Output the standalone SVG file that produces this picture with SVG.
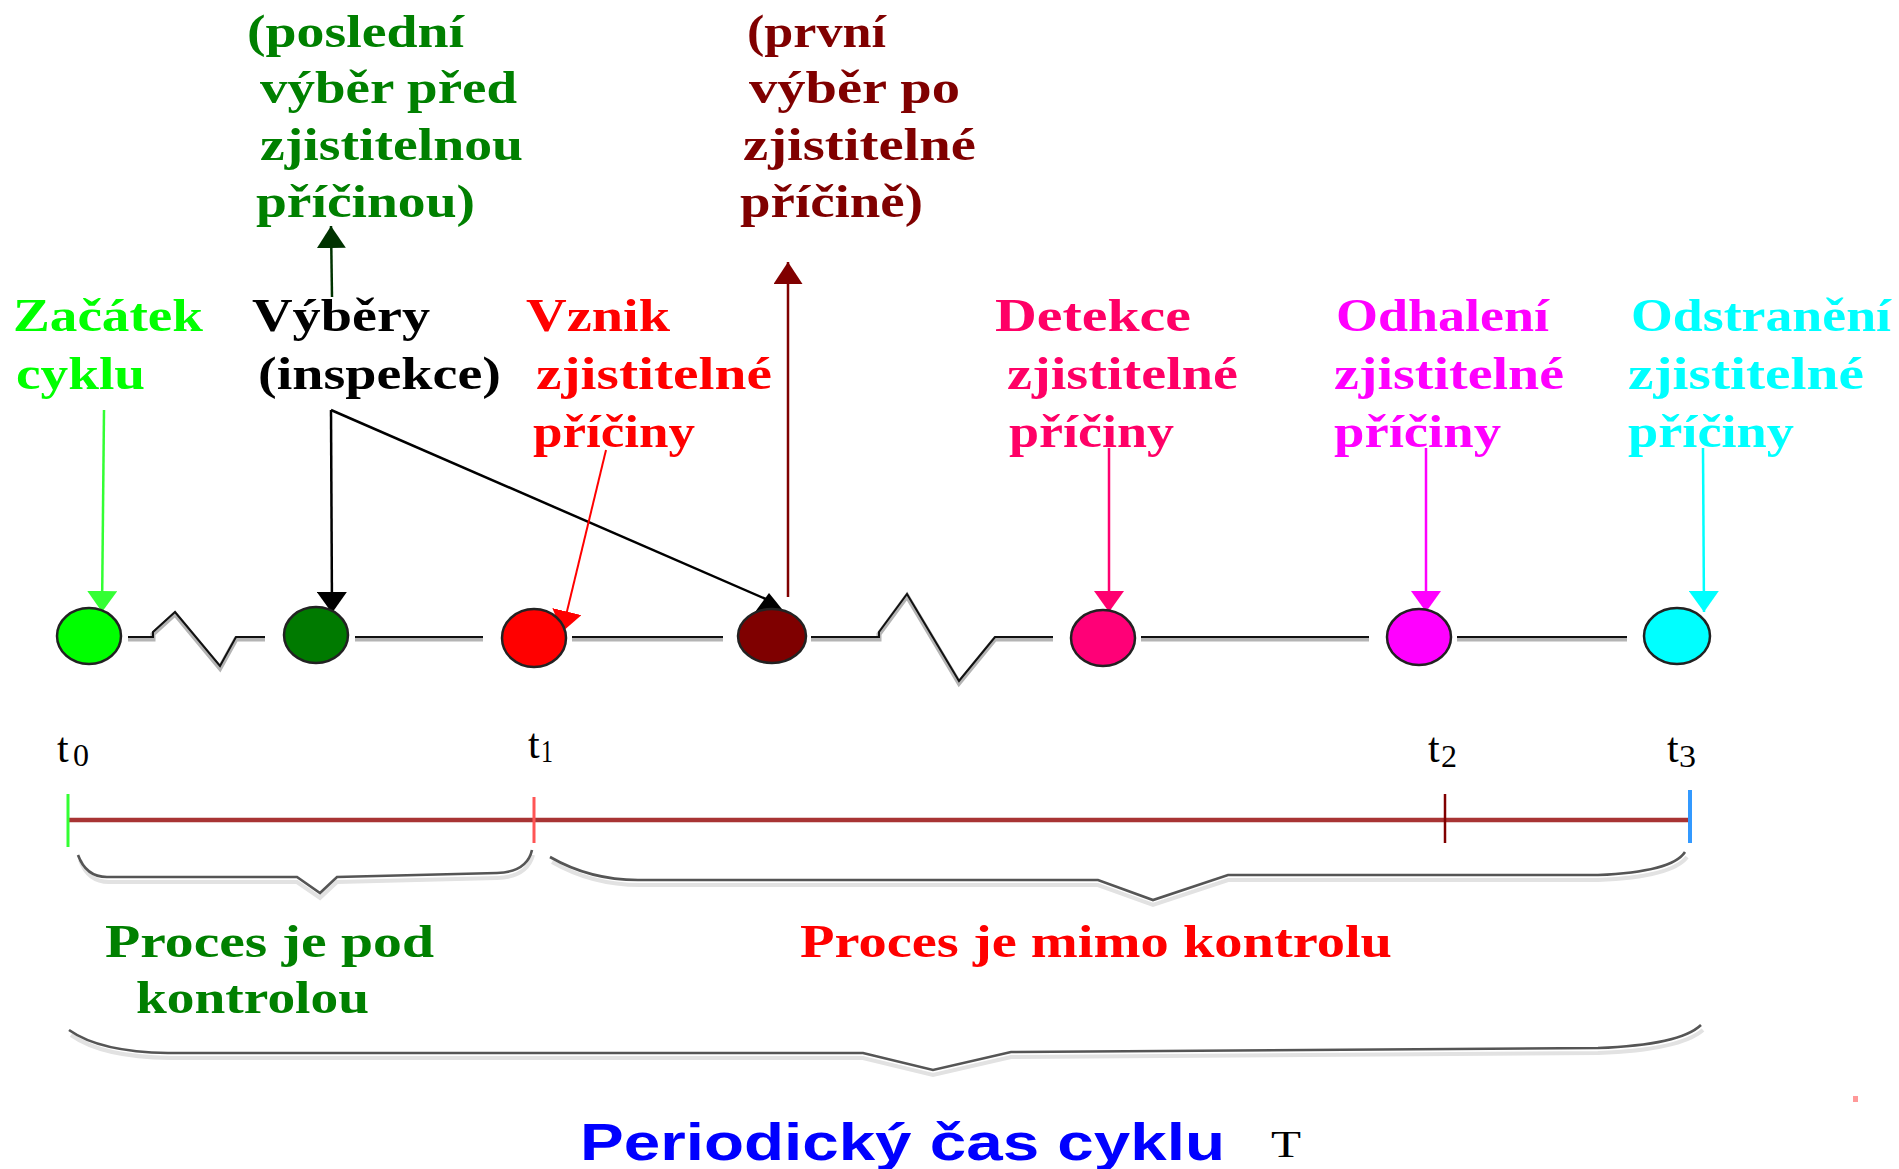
<svg xmlns="http://www.w3.org/2000/svg" width="1899" height="1169" viewBox="0 0 1899 1169">
<style>
.t{font-family:"Liberation Serif","Times New Roman",serif;font-weight:bold;font-size:46px}
.tl{font-family:"Liberation Serif","Times New Roman",serif;font-weight:normal}
.ttl{font-family:"Liberation Sans",Arial,sans-serif;font-weight:bold;font-size:52px;fill:#0000FF}
.node{stroke:#222;stroke-width:2.5}
.seg{stroke:#b4b4b4;stroke-width:5;fill:none}
.segk{stroke:#111;stroke-width:2;fill:none}
.brs{stroke:#e2e2e2;stroke-width:4;fill:none}
.br{stroke:#555;stroke-width:2.6;fill:none}
</style>
<defs>
<marker id="ah-g" markerUnits="userSpaceOnUse" viewBox="0 0 21 30" refX="21" refY="15" markerWidth="21" markerHeight="30" orient="auto"><path d="M0,0L21,15L0,30z" fill="#33FF33"/></marker>
<marker id="ah-k" markerUnits="userSpaceOnUse" viewBox="0 0 21 30" refX="21" refY="15" markerWidth="21" markerHeight="30" orient="auto"><path d="M0,0L21,15L0,30z" fill="#000"/></marker>
<marker id="ah-r" markerUnits="userSpaceOnUse" viewBox="0 0 21 30" refX="21" refY="15" markerWidth="21" markerHeight="30" orient="auto"><path d="M0,0L21,15L0,30z" fill="#FF0000"/></marker>
<marker id="ah-c" markerUnits="userSpaceOnUse" viewBox="0 0 21 30" refX="21" refY="15" markerWidth="21" markerHeight="30" orient="auto"><path d="M0,0L21,15L0,30z" fill="#FF0070"/></marker>
<marker id="ah-m" markerUnits="userSpaceOnUse" viewBox="0 0 21 30" refX="21" refY="15" markerWidth="21" markerHeight="30" orient="auto"><path d="M0,0L21,15L0,30z" fill="#FF00FF"/></marker>
<marker id="ah-cy" markerUnits="userSpaceOnUse" viewBox="0 0 21 30" refX="21" refY="15" markerWidth="21" markerHeight="30" orient="auto"><path d="M0,0L21,15L0,30z" fill="#00FFFF"/></marker>
<marker id="ah-dg" markerUnits="userSpaceOnUse" viewBox="0 0 22 29" refX="22" refY="14.5" markerWidth="22" markerHeight="29" orient="auto"><path d="M0,0L22,14.5L0,29z" fill="#003300"/></marker>
<marker id="ah-dr" markerUnits="userSpaceOnUse" viewBox="0 0 22 29" refX="22" refY="14.5" markerWidth="22" markerHeight="29" orient="auto"><path d="M0,0L22,14.5L0,29z" fill="#800000"/></marker>
</defs>
<rect width="1899" height="1169" fill="#fff"/>

<g id="label-last-sample" fill="#008000" class="t">
<text x="247" y="47" textLength="217" lengthAdjust="spacingAndGlyphs">(poslední</text>
<text x="260" y="103" textLength="257" lengthAdjust="spacingAndGlyphs">výběr před</text>
<text x="260" y="160" textLength="263" lengthAdjust="spacingAndGlyphs">zjistitelnou</text>
<text x="256" y="217" textLength="219" lengthAdjust="spacingAndGlyphs">příčinou)</text>
</g>
<g id="label-first-sample" fill="#800000" class="t">
<text x="747" y="47" textLength="139" lengthAdjust="spacingAndGlyphs">(první</text>
<text x="749" y="103" textLength="211" lengthAdjust="spacingAndGlyphs">výběr po</text>
<text x="743" y="160" textLength="233" lengthAdjust="spacingAndGlyphs">zjistitelné</text>
<text x="740" y="217" textLength="183" lengthAdjust="spacingAndGlyphs">příčině)</text>
</g>

<g id="connectors">
<polyline class="seg" points="128,639 153,639 153,634 175,614 220,668 236,639 265,639"/>
<polyline class="segk" points="128,637 153,637 153,632 175,612 220,666 236,637 265,637"/>
<line class="seg" x1="355" y1="639" x2="483" y2="639"/><line class="segk" x1="355" y1="637" x2="483" y2="637"/>
<line class="seg" x1="572" y1="639" x2="723" y2="639"/><line class="segk" x1="572" y1="637" x2="723" y2="637"/>
<polyline class="seg" points="811,639 879,639 879,634 907,596 959,683 995,639 1053,639"/>
<polyline class="segk" points="811,637 879,637 879,632 907,594 959,681 995,637 1053,637"/>
<line class="seg" x1="1141" y1="639" x2="1369" y2="639"/><line class="segk" x1="1141" y1="637" x2="1369" y2="637"/>
<line class="seg" x1="1457" y1="639" x2="1627" y2="639"/><line class="segk" x1="1457" y1="637" x2="1627" y2="637"/>

<line x1="104" y1="410" x2="102" y2="612" stroke="#33FF33" stroke-width="2.5" marker-end="url(#ah-g)"/>
<line x1="331" y1="410" x2="332" y2="613" stroke="#000" stroke-width="2.5" marker-end="url(#ah-k)"/>
<line x1="331" y1="410" x2="768" y2="600" stroke="#000" stroke-width="2.5"/>
<polygon points="769,593 755,612 786,614" fill="#000"/>
<line x1="606" y1="450" x2="562" y2="632" stroke="#FF0000" stroke-width="2" marker-end="url(#ah-r)"/>
<line x1="332" y1="297" x2="331" y2="226" stroke="#003300" stroke-width="2.5" marker-end="url(#ah-dg)"/>
<line x1="788" y1="597" x2="788" y2="262" stroke="#800000" stroke-width="2.5" marker-end="url(#ah-dr)"/>
<line x1="1109" y1="448" x2="1109" y2="612" stroke="#FF0070" stroke-width="2.5" marker-end="url(#ah-c)"/>
<line x1="1426" y1="448" x2="1426" y2="612" stroke="#FF00FF" stroke-width="2.5" marker-end="url(#ah-m)"/>
<line x1="1703" y1="448" x2="1704" y2="612" stroke="#00FFFF" stroke-width="2.5" marker-end="url(#ah-cy)"/>
</g>

<g id="node-start">
<ellipse class="node" cx="89" cy="636" rx="32" ry="28" fill="#00FF00"/>
<text class="t" fill="#00FF00" x="13" y="331" textLength="190" lengthAdjust="spacingAndGlyphs">Začátek</text>
<text class="t" fill="#00FF00" x="16" y="389" textLength="129" lengthAdjust="spacingAndGlyphs">cyklu</text>
</g>
<g id="node-samples">
<ellipse class="node" cx="316" cy="635" rx="32" ry="28" fill="#007A00"/>
<text class="t" fill="#000" x="252" y="331" textLength="178" lengthAdjust="spacingAndGlyphs">Výběry</text>
<text class="t" fill="#000" x="258" y="389" textLength="243" lengthAdjust="spacingAndGlyphs">(inspekce)</text>
</g>
<g id="node-origin">
<ellipse class="node" cx="534" cy="638" rx="32" ry="29" fill="#FF0000"/>
<text class="t" fill="#FF0000" x="526" y="331" textLength="144" lengthAdjust="spacingAndGlyphs">Vznik</text>
<text class="t" fill="#FF0000" x="536" y="389" textLength="236" lengthAdjust="spacingAndGlyphs">zjistitelné</text>
<text class="t" fill="#FF0000" x="533" y="447" textLength="162" lengthAdjust="spacingAndGlyphs">příčiny</text>
</g>
<g id="node-first-after">
<ellipse class="node" cx="772" cy="636" rx="34" ry="27" fill="#7F0000"/>
</g>
<g id="node-detection">
<ellipse class="node" cx="1103" cy="638" rx="32" ry="28" fill="#FF0077"/>
<text class="t" fill="#FF0066" x="995" y="331" textLength="196" lengthAdjust="spacingAndGlyphs">Detekce</text>
<text class="t" fill="#FF0066" x="1007" y="389" textLength="231" lengthAdjust="spacingAndGlyphs">zjistitelné</text>
<text class="t" fill="#FF0066" x="1009" y="447" textLength="165" lengthAdjust="spacingAndGlyphs">příčiny</text>
</g>
<g id="node-discovery">
<ellipse class="node" cx="1419" cy="637" rx="32" ry="28" fill="#FF00FF"/>
<text class="t" fill="#FF00FF" x="1336" y="331" textLength="213" lengthAdjust="spacingAndGlyphs">Odhalení</text>
<text class="t" fill="#FF00FF" x="1334" y="389" textLength="230" lengthAdjust="spacingAndGlyphs">zjistitelné</text>
<text class="t" fill="#FF00FF" x="1334" y="447" textLength="167" lengthAdjust="spacingAndGlyphs">příčiny</text>
</g>
<g id="node-removal">
<ellipse class="node" cx="1677" cy="636" rx="33" ry="28" fill="#00FFFF"/>
<text class="t" fill="#00FFFF" x="1631" y="331" textLength="260" lengthAdjust="spacingAndGlyphs">Odstranění</text>
<text class="t" fill="#00FFFF" x="1628" y="389" textLength="236" lengthAdjust="spacingAndGlyphs">zjistitelné</text>
<text class="t" fill="#00FFFF" x="1628" y="447" textLength="166" lengthAdjust="spacingAndGlyphs">příčiny</text>
</g>

<g id="time-axis">
<line x1="68" y1="820" x2="1688" y2="820" stroke="#A83434" stroke-width="4.5"/>
<line x1="68" y1="794" x2="68" y2="847" stroke="#33FF33" stroke-width="3"/>
<line x1="534" y1="797" x2="534" y2="843" stroke="#FF5555" stroke-width="3"/>
<line x1="1445" y1="794" x2="1445" y2="843" stroke="#800000" stroke-width="2.5"/>
<line x1="1690" y1="790" x2="1690" y2="843" stroke="#3399FF" stroke-width="4"/>
<g class="tl" fill="#000">
<text x="57" y="762" font-size="42">t</text><text x="73" y="766" font-size="32" textLength="16" lengthAdjust="spacingAndGlyphs">0</text>
<text x="528" y="758" font-size="42">t</text><text x="541" y="762" font-size="32" textLength="12" lengthAdjust="spacingAndGlyphs">1</text>
<text x="1428" y="762" font-size="42">t</text><text x="1441" y="767" font-size="32" textLength="16" lengthAdjust="spacingAndGlyphs">2</text>
<text x="1667" y="762" font-size="42">t</text><text x="1679" y="767" font-size="32" textLength="17" lengthAdjust="spacingAndGlyphs">3</text>
</g>
</g>

<g id="braces">
<path class="brs" d="M80,860 Q88,882 109,882 L297,882 L320,898 L337,882 L497,878 Q527,877 533,855"/>
<path class="br" d="M78,855 Q86,877 107,877 L297,877 L320,893 L337,877 L497,873 Q527,872 532,850"/>
<path class="brs" d="M552,862 Q592,885 640,885 L1098,885 L1153,905 L1228,880 L1598,880 Q1672,877 1687,857"/>
<path class="br" d="M550,857 Q590,880 638,880 L1098,880 L1153,900 L1228,875 L1598,875 Q1672,872 1685,852"/>
<path class="brs" d="M71,1035 Q102,1057 170,1058 L863,1058 L933,1075 L1011,1057 L1598,1053 Q1680,1050 1703,1030"/>
<path class="br" d="M69,1030 Q100,1052 168,1053 L863,1053 L933,1070 L1011,1052 L1598,1048 Q1680,1045 1701,1025"/>
</g>

<g id="phase-labels" class="t">
<text fill="#008000" x="105" y="957" textLength="329" lengthAdjust="spacingAndGlyphs">Proces je pod</text>
<text fill="#008000" x="136" y="1013" textLength="233" lengthAdjust="spacingAndGlyphs">kontrolou</text>
<text fill="#FF0000" x="800" y="957" textLength="592" lengthAdjust="spacingAndGlyphs">Proces je mimo kontrolu</text>
</g>
<g id="title">
<text class="ttl" x="580" y="1160" textLength="645" lengthAdjust="spacingAndGlyphs">Periodický čas cyklu</text>
<text class="tl" x="1271" y="1157" font-size="38" fill="#000" textLength="30" lengthAdjust="spacingAndGlyphs">T</text>
</g>
<rect x="1853" y="1096" width="5" height="6" fill="#FF9999"/>
</svg>
